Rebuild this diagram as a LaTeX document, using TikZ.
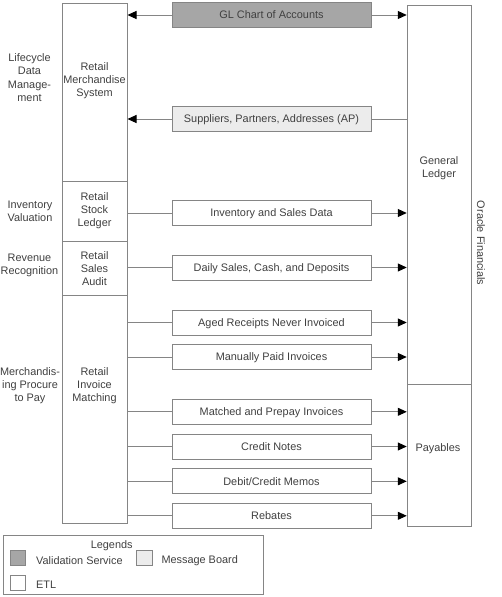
\documentclass[tikz,border=0pt]{standalone}
\usepackage{fontspec}
\setmainfont{Liberation Sans}
\usetikzlibrary{arrows.meta}
\definecolor{linegray}{HTML}{858585}
\definecolor{txtgray}{HTML}{404040}
\definecolor{darkfill}{HTML}{A6A6A6}
\definecolor{lightfill}{HTML}{ECECEC}
\begin{document}
\begin{tikzpicture}[x=1pt,y=-1pt,
  every node/.style={font=\fontsize{10.9}{13.3}\selectfont, text=txtgray},
  colbox/.style={draw=linegray, line width=1pt, inner sep=0pt},
  flowbox/.style={draw=linegray, line width=1pt, minimum width=199pt, minimum height=25pt, inner sep=0pt, text height=7.8pt, text depth=0pt},
  lbl/.style={align=center, inner sep=0pt},
  conn/.style={draw=linegray, line width=1pt},
  arr/.style={conn, -{Triangle[length=9pt,width=8pt,color=black,fill=black]}},
  swatch/.style={draw=linegray, line width=1pt, minimum width=15.5pt, minimum height=15pt, inner sep=0pt}
]
\useasboundingbox (0,0) rectangle (502,597);

% left column
\node[colbox, minimum width=65pt, minimum height=178pt] (rms) at (94.5,92) {};
\node[colbox, minimum width=65pt, minimum height=60pt] (rsl) at (94.5,211) {};
\node[colbox, minimum width=65pt, minimum height=54pt] (rsa) at (94.5,268) {};
\node[colbox, minimum width=65pt, minimum height=228pt] (rim) at (94.5,409) {};
\node[lbl] (trms) at (94.5,80.5) {Retail\\Merchandise\\System};
\node[lbl] (trsl) at (94.5,210.5) {Retail\\Stock\\Ledger};
\node[lbl] (trsa) at (94.5,268.5) {Retail\\Sales\\Audit};
\node[lbl] (trim) at (94.5,385.5) {Retail\\Invoice\\Matching};

% far-left labels
\node[lbl] (l1) at (29.5,77.5) {Lifecycle\\Data\\Manage-\\ment};
\node[lbl] (l2) at (30,211) {Inventory\\Valuation};
\node[lbl] (l3) at (29.5,265.5) {Revenue\\Recognition};
\node[lbl] (l4) at (30,385.5) {Merchandis-\\ing Procure\\to Pay};

% right column
\node[colbox, minimum width=64.5pt, minimum height=379pt] (gl) at (439.5,194.5) {};
\node[colbox, minimum width=64.5pt, minimum height=142pt] (pay) at (439.5,455) {};
\node[lbl] (tgl) at (439,168.5) {General\\Ledger};
\node[lbl] (tpay) at (438,449) {Payables};
\node[lbl, rotate=-90] (orf) at (481,243) {Oracle Financials};

% middle boxes
\node[flowbox, fill=darkfill] (coa) at (271.5,15) {GL Chart of Accounts};
\node[flowbox, fill=lightfill] (sup) at (271.5,119) {Suppliers, Partners, Addresses (AP)};
\node[flowbox] (inv) at (271.5,213) {Inventory and Sales Data};
\node[flowbox] (dsc) at (271.5,267.5) {Daily Sales, Cash, and Deposits};
\node[flowbox] (arn) at (271.5,322.5) {Aged Receipts Never Invoiced};
\node[flowbox] (mpi) at (271.5,357) {Manually Paid Invoices};
\node[flowbox] (mpp) at (271.5,411.8) {Matched and Prepay Invoices};
\node[flowbox] (crn) at (271.5,446.5) {Credit Notes};
\node[flowbox] (dcm) at (271.5,481.3) {Debit/Credit Memos};
\node[flowbox] (reb) at (271.5,515.8) {Rebates};

% connectors
\draw[arr] (coa.west) -- (coa.west -| rms.east);
\draw[arr] (coa.east) -- (coa.east -| gl.west);
\draw[arr] (sup.west) -- (sup.west -| rms.east);
\draw[conn] (sup.east) -- (sup.east -| gl.west);

\draw[conn] (inv.west -| rsl.east) -- (inv.west);
\draw[arr] (inv.east) -- (inv.east -| gl.west);
\draw[conn] (dsc.west -| rsa.east) -- (dsc.west);
\draw[arr] (dsc.east) -- (dsc.east -| gl.west);
\draw[conn] (arn.west -| rim.east) -- (arn.west);
\draw[arr] (arn.east) -- (arn.east -| gl.west);
\draw[conn] (mpi.west -| rim.east) -- (mpi.west);
\draw[arr] (mpi.east) -- (mpi.east -| gl.west);
\draw[conn] (mpp.west -| rim.east) -- (mpp.west);
\draw[arr] (mpp.east) -- (mpp.east -| pay.west);
\draw[conn] (crn.west -| rim.east) -- (crn.west);
\draw[arr] (crn.east) -- (crn.east -| pay.west);
\draw[conn] (dcm.west -| rim.east) -- (dcm.west);
\draw[arr] (dcm.east) -- (dcm.east -| pay.west);
\draw[conn] (reb.west -| rim.east) -- (reb.west);
\draw[arr] (reb.east) -- (reb.east -| pay.west);

% legend
\node[colbox, minimum width=260pt, minimum height=59pt] (leg) at (133.3,565.4) {};
\node[lbl] (legt) at (111.7,545.5) {Legends};
\node[swatch, fill=darkfill] (sw1) at (17.8,558.3) {};
\node[swatch, fill=lightfill] (sw2) at (144.5,558.3) {};
\node[swatch] (sw3) at (17.8,583.2) {};
\node[lbl, anchor=west] (tsw1) at (36,560.5) {Validation Service};
\node[lbl, anchor=west] (tsw2) at (161.3,560.5) {Message Board};
\node[lbl, anchor=west] (tsw3) at (36,584.8) {ETL};
\end{tikzpicture}
\end{document}
